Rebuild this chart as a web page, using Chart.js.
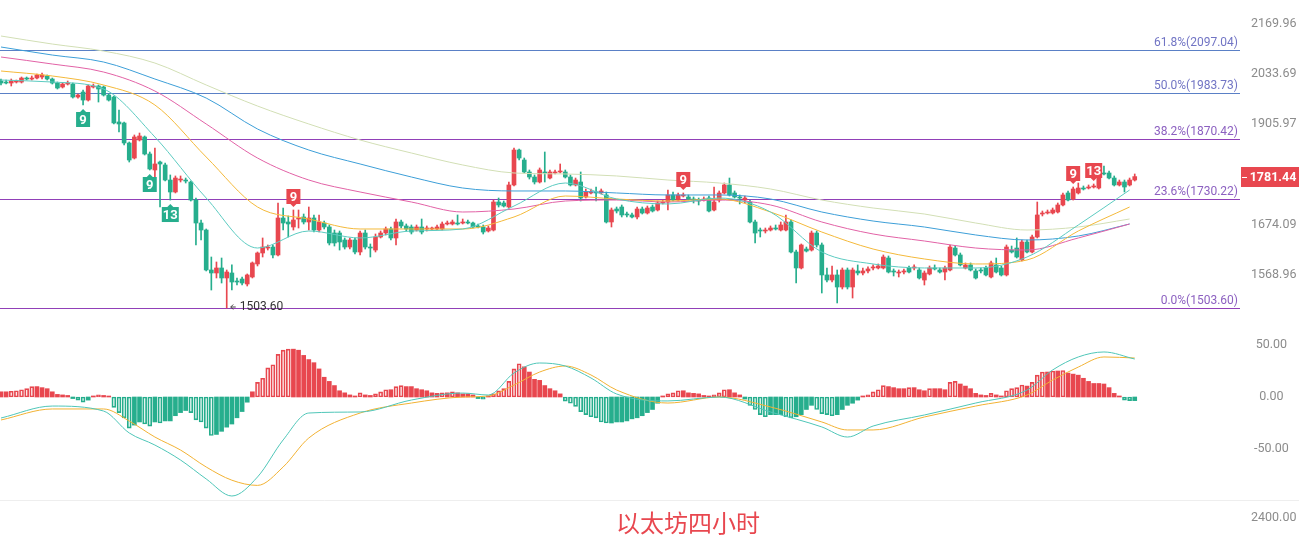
<!DOCTYPE html>
<html>
<head>
<meta charset="utf-8">
<script src="https://cdn.jsdelivr.net/npm/chart.js@4.4.1/dist/chart.umd.min.js"></script>
<style>
body { margin: 0; background: #fff; }
#wrap { position: relative; width: 1299px; height: 543px; background: #fff; overflow: hidden; }
canvas { position: absolute; left: 0; }
#title { position: absolute; left: 616px; top: 507px; font: 24px "Noto Sans CJK SC", sans-serif; line-height: 30px; color: #e8474f; }
</style>
</head>
<body>
<div id="wrap">
  <canvas id="priceChart" width="1299" height="320" style="top:0"></canvas>
  <canvas id="macdChart" width="1299" height="180" style="top:320px"></canvas>
  <canvas id="volChart" width="1299" height="43" style="top:500px"></canvas>
  <div id="title">以太坊四小时</div>
</div>
<script>
// 4h candles, ETH
var openP = [2015.3,2012.7,2010.1,2012.7,2012.7,2023.1,2020.5,2023.1,2025.8,2028.4,2020.5,2010.1,1999.8,2007.5,2007.5,1974.1,1986.9,1966.4,1999.8,2002.4,
1999.8,1979.2,1974.1,1911.6,1909.1,1860.4,1824.7,1867.6,1874.9,1834.2,1796.7,1815.3,1808.4,1773.6,1746.4,1773.6,1773.6,1769.1,1728.4,1677.9,
1662.8,1579.2,1573.1,1583.3,1563.0,1573.1,1556.9,1560.9,1550.9,1565.0,1591.5,1614.2,1624.6,1626.7,1610.1,1688.8,1680.1,1669.3,1686.6,1691.0,
1680.1,1688.8,1662.8,1677.9,1669.3,1656.4,1656.4,1641.5,1626.7,1641.5,1616.3,1656.4,1626.7,1620.4,1647.9,1656.4,1665.0,1645.8,1680.1,1671.5,
1669.3,1662.8,1669.3,1665.0,1665.0,1665.0,1665.0,1675.8,1675.8,1677.9,1677.9,1680.1,1677.9,1671.5,1669.3,1660.7,1662.8,1724.0,1721.8,1712.9,
1762.3,1843.6,1820.0,1792.1,1780.5,1769.1,1792.1,1778.2,1789.8,1792.1,1792.1,1780.5,1762.3,1769.1,1735.2,1744.2,1746.4,1744.2,1739.7,1680.1,
1708.5,1712.9,1697.5,1695.4,1691.0,1708.5,1699.7,1712.9,1706.3,1721.8,1724.0,1739.7,1728.4,1737.4,1735.2,1730.7,1728.4,1728.4,1732.9,1706.3,
1728.4,1744.2,1762.3,1744.2,1735.2,1728.4,1724.0,1680.1,1662.8,1660.7,1662.8,1667.1,1662.8,1662.8,1680.1,1616.3,1583.3,1622.5,1620.4,1656.4,
1631.0,1569.1,1558.9,1569.1,1544.9,1579.2,1544.9,1577.2,1573.1,1577.2,1583.3,1583.3,1583.3,1603.8,1577.2,1573.1,1575.1,1583.3,1583.3,1579.2,
1558.9,1571.1,1583.3,1579.2,1575.1,1579.2,1624.6,1610.1,1583.3,1589.5,1577.2,1579.2,1583.3,1565.0,1589.5,1583.3,1569.1,1620.4,1624.6,1599.7,
1637.3,1616.3,1647.9,1697.5,1699.7,1699.7,1701.9,1717.4,1744.2,1730.7,1744.2,1755.4,1755.4,1757.7,1755.4,1789.8,1789.8,1778.2,1762.3,1769.1,
1762.3,1773.6];
var highP = [2020.5,2017.9,2020.5,2017.9,2025.8,2025.8,2028.4,2033.6,2036.2,2031.0,2023.1,2012.7,2010.1,2015.3,2010.1,1981.8,1992.0,2005.0,2007.5,2005.0,
2002.4,1981.8,1976.6,1941.3,1911.6,1862.8,1879.7,1884.5,1877.3,1838.9,1848.4,1817.7,1813.0,1785.2,1782.9,1782.9,1778.2,1771.3,1732.9,1684.4,
1665.0,1605.9,1595.6,1603.8,1579.2,1589.5,1563.0,1565.0,1571.1,1595.6,1616.3,1645.8,1631.0,1631.0,1721.8,1710.7,1693.2,1706.3,1706.3,1697.5,
1712.9,1695.4,1695.4,1682.2,1673.6,1662.8,1660.7,1645.8,1645.8,1645.8,1660.7,1662.8,1633.1,1654.3,1660.7,1669.3,1669.3,1686.6,1684.4,1675.8,
1673.6,1673.6,1686.6,1671.5,1669.3,1673.6,1680.1,1682.2,1684.4,1695.4,1686.6,1684.4,1680.1,1675.8,1673.6,1671.5,1728.4,1732.9,1726.2,1769.1,
1848.4,1846.0,1824.7,1796.7,1785.2,1801.4,1838.9,1796.7,1796.7,1810.7,1796.7,1785.2,1778.2,1792.1,1753.2,1753.2,1757.7,1753.2,1746.4,1710.7,
1712.9,1717.4,1701.9,1699.7,1712.9,1712.9,1715.1,1717.4,1726.2,1728.4,1750.9,1746.4,1744.2,1744.2,1739.7,1735.2,1732.9,1735.2,1737.4,1757.7,
1748.7,1766.8,1778.2,1748.7,1739.7,1737.4,1728.4,1684.4,1667.1,1667.1,1671.5,1673.6,1680.1,1695.4,1684.4,1620.4,1633.1,1626.7,1660.7,1660.7,
1635.2,1583.3,1587.4,1579.2,1583.3,1583.3,1583.3,1589.5,1583.3,1585.4,1589.5,1591.5,1610.1,1608.0,1581.3,1579.2,1581.3,1587.4,1589.5,1583.3,
1577.2,1587.4,1589.5,1583.3,1587.4,1631.0,1628.8,1614.2,1593.6,1593.6,1581.3,1583.3,1587.4,1597.7,1603.8,1587.4,1631.0,1628.8,1645.8,1641.5,
1641.5,1652.2,1724.0,1704.1,1706.3,1710.7,1721.8,1744.2,1748.7,1757.7,1766.8,1760.0,1762.3,1764.5,1794.4,1806.0,1794.4,1782.9,1773.6,1773.6,
1778.2,1787.5];
var lowP = [2005.0,2007.5,2002.4,2010.1,2010.1,2017.9,2017.9,2020.5,2020.5,2017.9,2007.5,1994.6,1997.2,2005.0,1971.5,1971.5,1953.9,1963.9,1997.2,1961.4,
1976.6,1963.9,1906.6,1887.0,1855.6,1815.3,1822.4,1865.2,1831.8,1796.7,1773.6,1712.9,1771.3,1728.4,1744.2,1769.1,1766.8,1726.2,1631.0,1641.5,
1577.2,1538.9,1563.0,1552.9,1503.6,1538.9,1548.9,1548.9,1546.9,1563.0,1587.4,1605.9,1620.4,1603.8,1608.0,1662.8,1647.9,1662.8,1667.1,1675.8,
1662.8,1658.5,1658.5,1665.0,1631.0,1628.8,1620.4,1622.5,1622.5,1612.1,1610.1,1622.5,1605.9,1616.3,1645.8,1652.2,1641.5,1631.0,1667.1,1660.7,
1654.3,1660.7,1654.3,1660.7,1662.8,1662.8,1662.8,1673.6,1673.6,1673.6,1675.8,1675.8,1667.1,1667.1,1654.3,1658.5,1660.7,1712.9,1712.9,1710.7,
1760.0,1820.0,1789.8,1775.9,1764.5,1766.8,1769.1,1775.9,1787.5,1789.8,1778.2,1760.0,1760.0,1726.2,1732.9,1741.9,1726.2,1741.9,1677.9,1669.3,
1699.7,1691.0,1691.0,1688.8,1686.6,1697.5,1697.5,1701.9,1704.1,1719.6,1706.3,1726.2,1726.2,1735.2,1728.4,1721.8,1717.4,1726.2,1701.9,1704.1,
1724.0,1741.9,1737.4,1732.9,1719.6,1721.8,1677.9,1635.2,1647.9,1656.4,1660.7,1662.8,1660.7,1660.7,1614.2,1552.9,1581.3,1616.3,1618.3,1626.7,
1533.0,1554.9,1554.9,1513.4,1540.9,1540.9,1523.1,1569.1,1569.1,1573.1,1579.2,1581.3,1581.3,1573.1,1567.0,1565.0,1571.1,1573.1,1579.2,1560.9,
1548.9,1569.1,1579.2,1573.1,1558.9,1577.2,1608.0,1587.4,1581.3,1577.2,1560.9,1573.1,1567.0,1563.0,1573.1,1567.0,1567.0,1614.2,1603.8,1597.7,
1614.2,1614.2,1645.8,1693.2,1697.5,1697.5,1699.7,1715.1,1726.2,1728.4,1741.9,1750.9,1753.2,1755.4,1753.2,1785.2,1775.9,1760.0,1760.0,1746.4,
1760.0,1771.3];
var closeP = [2010.1,2010.1,2015.3,2015.3,2023.1,2020.5,2023.1,2031.0,2031.0,2020.5,2010.1,1997.2,2007.5,2010.1,1974.1,1979.2,1966.4,2002.4,2002.4,1994.6,
1979.2,1966.4,1909.1,1906.6,1860.4,1820.0,1874.9,1877.3,1834.2,1799.0,1810.7,1810.7,1773.6,1746.4,1778.2,1775.9,1771.3,1728.4,1677.9,1662.8,
1579.2,1573.1,1583.3,1563.0,1575.1,1554.9,1554.9,1552.9,1569.1,1593.6,1614.2,1626.7,1626.7,1610.1,1688.8,1677.9,1675.8,1684.4,1688.8,1680.1,
1688.8,1662.8,1680.1,1669.3,1635.2,1635.2,1637.3,1626.7,1641.5,1616.3,1656.4,1626.7,1624.6,1647.9,1656.4,1665.0,1645.8,1680.1,1671.5,1665.0,
1658.5,1669.3,1658.5,1667.1,1667.1,1669.3,1675.8,1677.9,1680.1,1675.8,1680.1,1677.9,1669.3,1669.3,1658.5,1667.1,1724.0,1717.4,1715.1,1762.3,
1843.6,1824.7,1792.1,1780.5,1769.1,1796.7,1789.8,1792.1,1792.1,1794.4,1780.5,1762.3,1773.6,1732.9,1746.4,1746.4,1744.2,1748.7,1680.1,1706.3,
1704.1,1695.4,1695.4,1691.0,1708.5,1699.7,1710.7,1704.1,1721.8,1724.0,1739.7,1728.4,1739.7,1739.7,1730.7,1728.4,1726.2,1730.7,1704.1,1724.0,
1744.2,1762.3,1739.7,1735.2,1732.9,1732.9,1680.1,1656.4,1660.7,1662.8,1667.1,1665.0,1673.6,1680.1,1616.3,1583.3,1631.0,1618.3,1656.4,1631.0,
1569.1,1558.9,1569.1,1544.9,1579.2,1544.9,1579.2,1573.1,1577.2,1581.3,1585.4,1587.4,1605.9,1575.1,1575.1,1575.1,1577.2,1575.1,1585.4,1563.0,
1573.1,1583.3,1581.3,1575.1,1583.3,1626.7,1610.1,1589.5,1589.5,1579.2,1563.0,1577.2,1569.1,1593.6,1575.1,1569.1,1626.7,1616.3,1605.9,1637.3,
1616.3,1647.9,1695.4,1699.7,1701.9,1706.3,1717.4,1739.7,1728.4,1753.2,1755.4,1753.2,1757.7,1760.0,1789.8,1787.5,1778.2,1762.3,1769.1,1757.7,
1773.6,1781.44];

// moving averages every 10 candles
var maX = [0,10,20,30,40,50,60,70,80,90,100,110,120,130,140,150,160,170,180,190,200,210,220];
var maTeal = [2017.9,2012.7,1994.6,1874.9,1732.9,1624.6,1660.7,1645.8,1660.7,1665.0,1715.1,1766.8,1730.7,1719.6,1732.9,1701.9,1616.3,1591.5,1583.3,1583.3,1605.9,1673.6,1750.9];
var maOrange = [2041.5,2028.4,2005.0,1953.9,1827.1,1712.9,1686.6,1665.0,1665.0,1665.0,1691.0,1737.4,1730.7,1726.2,1730.7,1701.9,1658.5,1622.5,1601.8,1591.5,1599.7,1660.7,1712.9];
var maPink = [2078.7,2060.0,2038.8,1989.4,1906.6,1824.7,1773.6,1746.4,1724.0,1701.9,1708.5,1726.2,1728.4,1724.0,1728.4,1717.4,1680.1,1654.3,1639.4,1624.6,1620.4,1645.8,1675.8];
var maBlue = [2105.7,2084.0,2065.3,2020.5,1971.5,1894.3,1843.6,1810.7,1780.5,1755.4,1748.7,1748.7,1744.2,1739.7,1739.7,1730.7,1701.9,1682.2,1669.3,1652.2,1641.5,1650.0,1675.8];
var maBeige = [2135.8,2113.8,2094.8,2062.6,2005.0,1951.3,1906.6,1867.6,1836.5,1808.4,1789.8,1787.5,1782.9,1773.6,1766.8,1753.2,1728.4,1710.7,1697.5,1677.9,1662.8,1669.3,1686.6];

// fibonacci retracement
var fibNames = ['61.8%','50.0%','38.2%','23.6%','0.0%'];
var fibLevels = [2097.04,1983.73,1870.42,1730.22,1503.60];

// TD sequential counts
var tdIdx = [16,29,33,57,133,209,213];
var tdText = ['9','9','13','9','9','9','13'];
var tdSide = ['low','low','low','high','high','high','high'];

var priceTicks = [2169.96,2033.69,1905.97,1674.09,1568.96];

// MACD
var macdHist = [5,5,5.5,6,7,8,10,10,9,8,5,2.5,2,1.5,-1.5,-3,-5,-3,1,2,
1.5,0.5,-10,-15,-20,-30,-27,-24,-26,-28,-24,-25,-23,-23,-18,-15,-13,-15,-22,-24,
-30,-37,-36,-33,-29,-26,-20,-14,-5,5,14,18,28,31,41,45,46,46,45,40,
36,33,27,19,15,11,6,4,2,1,4,2,1.5,3,5,7,7,10,11,10,
10,8,7,6,4,3.5,4,4,5,4,3,3,2,-1.5,-2,1,3,6,8,15,
27,32,29,24,17,16,11,8,6,3,-4,-6,-9,-14,-17,-19,-20,-24,-25,-25,
-24,-24,-23,-21,-20,-18,-15,-12,-6,1,3,4,6,6,4,3.5,3,1.5,1,2,
4,7,7,4,2,-2,-8,-12,-17,-19,-17,-17,-17,-19,-20,-19,-17,-12,-8,-12,
-16,-17,-18,-17,-12,-8,-6,-3,1,2,5,7,11,10,9,8,8,9,9,7,
6,8,8,8,7,14,15,12.5,10.5,8,3.5,2,1.5,3.5,2,1,6,8,9,11.5,
10.5,14,21,24,24,25,25,25.5,23,22,21,18,15,13,13,12.5,9,3.5,1,-3,
-3.5,-3.5];
var macdX = [0,10,20,25,30,35,40,45,50,55,60,70,80,90,95,100,105,110,115,120,130,140,150,160,165,170,180,190,200,205,210,215,221];
var difLine = [-20.2,-8.7,-13.5,-34.6,-46.2,-60.6,-78.8,-95.2,-76.9,-41.3,-15.4,-14.4,-2.9,3.8,1.9,23.1,32.7,29.8,18.3,2.9,-3.8,0,-14.4,-28.8,-38.5,-27.9,-17.3,-5.8,6.7,26.0,38.5,43.3,36.5];
var deaLine = [-22.1,-11.5,-11.5,-23.1,-38.5,-51.0,-67.3,-80.0,-85.0,-67.3,-39.4,-15.4,-5.8,0,1.0,11.5,24.0,29.8,21.2,6.7,-5.8,0,-9.6,-24.0,-31.7,-31.7,-19.2,-8.7,1.9,16.3,28.8,38.5,37.5];
var macdTicks = [50, 0, -50];
var volTicks = [2400];

var UP = '#e8474f';
var DOWN = '#26ae8d';
var X_MIN = -0.195, X_MAX = 241.52;

Chart.defaults.font.family = 'Roboto, "Liberation Sans", sans-serif';
Chart.defaults.animation = false;

function rightAxis(ticks, pad, extra) {
	var ax = {
		position: 'right',
		bounds: 'data',
		grid: { display: false, drawTicks: false },
		border: { display: false },
		ticks: {
			color: '#8c8c8c',
			font: { size: 12.5 },
			padding: pad,
			crossAlign: 'center',
			autoSkip: false,
			callback: function(v) { return Number(v).toFixed(2); }
		},
		afterBuildTicks: function(s) { s.ticks = ticks.map(function(v) { return { value: v }; }); },
		afterFit: function(s) { s.width = 59; s.paddingTop = 0; s.paddingBottom = 0; }
	};
	return Object.assign(ax, extra);
}

var xAxis = { type: 'linear', display: false, min: X_MIN, max: X_MAX, bounds: 'data', offset: false };

function maLine(vals, color) {
	return {
		type: 'line',
		data: vals.map(function(v, k) { return { x: maX[k], y: v }; }),
		borderColor: color,
		borderWidth: 1,
		pointRadius: 0,
		cubicInterpolationMode: 'monotone',
		order: 1
	};
}

var candleColors = closeP.map(function(c, i) { return c >= openP[i] ? UP : DOWN; });

var priceDecor = {
	id: 'priceDecor',
	beforeDatasetsDraw: function(chart) {
		var ctx = chart.ctx, a = chart.chartArea, y = chart.scales.y;
		ctx.save();
		fibLevels.forEach(function(v, k) {
			var py = Math.round(y.getPixelForValue(v)) + 0.5;
			ctx.strokeStyle = k < 2 ? '#5a80c6' : '#9140b8';
			ctx.lineWidth = 1;
			ctx.beginPath();
			ctx.moveTo(a.left, py);
			ctx.lineTo(a.right, py);
			ctx.stroke();
			ctx.fillStyle = k < 2 ? '#7174c4' : '#8c60c0';
			ctx.font = '12px Roboto, sans-serif';
			ctx.textAlign = 'right';
			ctx.textBaseline = 'bottom';
			ctx.fillText(fibNames[k] + '(' + v.toFixed(2) + ')', a.right - 2, py - 2);
		});
		ctx.restore();
	},
	afterDatasetsDraw: function(chart) {
		var ctx = chart.ctx, x = chart.scales.x, y = chart.scales.y;
		ctx.save();
		// TD sequential boxes
		tdIdx.forEach(function(i, k) {
			var px = x.getPixelForValue(i);
			var txt = tdText[k];
			var w = txt.length > 1 ? 17 : 14, h = 15;
			ctx.font = 'bold 13px Roboto, sans-serif';
			ctx.textAlign = 'center';
			ctx.textBaseline = 'middle';
			if (tdSide[k] == 'low') {
				var tip = y.getPixelForValue(lowP[i]) + 4;
				var top = tip + 3;
				ctx.fillStyle = DOWN;
				ctx.beginPath();
				ctx.moveTo(px, tip); ctx.lineTo(px + 3.5, top + 0.5); ctx.lineTo(px - 3.5, top + 0.5);
				ctx.fill();
				ctx.fillRect(px - w / 2, top, w, h);
				ctx.fillStyle = '#fff';
				ctx.fillText(txt, px, top + h / 2 + 1);
			} else {
				var tip2 = y.getPixelForValue(highP[i]) - 3;
				var bot = tip2 - 3;
				ctx.fillStyle = UP;
				ctx.beginPath();
				ctx.moveTo(px, tip2); ctx.lineTo(px + 3.5, bot - 0.5); ctx.lineTo(px - 3.5, bot - 0.5);
				ctx.fill();
				ctx.fillRect(px - w / 2, bot - h, w, h);
				ctx.fillStyle = '#fff';
				ctx.fillText(txt, px, bot - h / 2 + 1);
			}
		});
		// lowest low marker
		var lo = 0;
		lowP.forEach(function(v, i) { if (v < lowP[lo]) lo = i; });
		var lx = x.getPixelForValue(lo), ly = y.getPixelForValue(lowP[lo]) - 1;
		ctx.strokeStyle = '#444';
		ctx.lineWidth = 1;
		ctx.beginPath();
		ctx.moveTo(lx + 9, ly); ctx.lineTo(lx + 4, ly);
		ctx.moveTo(lx + 6.5, ly - 2.5); ctx.lineTo(lx + 4, ly); ctx.lineTo(lx + 6.5, ly + 2.5);
		ctx.stroke();
		ctx.fillStyle = '#333';
		ctx.font = '12px Roboto, sans-serif';
		ctx.textAlign = 'left';
		ctx.textBaseline = 'middle';
		ctx.fillText(lowP[lo].toFixed(2), lx + 13, ly);
		ctx.restore();
	},
	afterDraw: function(chart) {
		var ctx = chart.ctx, a = chart.chartArea, y = chart.scales.y;
		var last = closeP[closeP.length - 1];
		var py = y.getPixelForValue(last);
		ctx.save();
		ctx.fillStyle = UP;
		ctx.fillRect(a.right + 1, Math.round(py) - 10, chart.width - a.right - 1, 20);
		ctx.strokeStyle = '#fff';
		ctx.beginPath();
		ctx.moveTo(a.right + 2, Math.round(py) + 0.5);
		ctx.lineTo(a.right + 7, Math.round(py) + 0.5);
		ctx.stroke();
		ctx.fillStyle = '#fff';
		ctx.font = 'bold 12.5px Roboto, sans-serif';
		ctx.textAlign = 'center';
		ctx.textBaseline = 'middle';
		ctx.fillText(last.toFixed(2), a.right + 33, Math.round(py) + 1);
		ctx.restore();
	}
};

new Chart(document.getElementById('priceChart'), {
	type: 'bar',
	data: {
		datasets: [
			maLine(maTeal, '#5ccbc1'),
			maLine(maOrange, '#f4b93a'),
			maLine(maPink, '#e262a6'),
			maLine(maBlue, '#3d9fd8'),
			maLine(maBeige, '#d2dfb5'),
			{
				data: lowP.map(function(l, i) { return { x: i, y: [l, highP[i]] }; }),
				backgroundColor: candleColors,
				barThickness: 1,
				grouped: false,
				minBarLength: 1,
				order: 3
			},
			{
				data: openP.map(function(o, i) { return { x: i, y: [o, closeP[i]] }; }),
				backgroundColor: candleColors,
				barThickness: 4,
				grouped: false,
				minBarLength: 1,
				order: 2
			}
		]
	},
	options: {
		responsive: false,
		devicePixelRatio: 1,
		events: [],
		layout: { padding: 0 },
		plugins: { legend: { display: false }, tooltip: { enabled: false } },
		scales: {
			x: xAxis,
			y: rightAxis(priceTicks, 11, { type: 'logarithmic', min: 1480.5, max: 2237.4 })
		}
	},
	plugins: [priceDecor]
});

var histColor = macdHist.map(function(h) { return h >= 0 ? UP : DOWN; });
var histHollow = macdHist.map(function(h, i) { return i > 0 && Math.abs(h) > Math.abs(macdHist[i - 1]); });

new Chart(document.getElementById('macdChart'), {
	type: 'bar',
	data: {
		datasets: [
			{
				type: 'line',
				data: difLine.map(function(v, k) { return { x: macdX[k], y: v }; }),
				borderColor: '#4fc6b8',
				borderWidth: 1,
				pointRadius: 0,
				cubicInterpolationMode: 'monotone',
				order: 1
			},
			{
				type: 'line',
				data: deaLine.map(function(v, k) { return { x: macdX[k], y: v }; }),
				borderColor: '#f2b233',
				borderWidth: 1,
				pointRadius: 0,
				cubicInterpolationMode: 'monotone',
				order: 1
			},
			{
				data: macdHist.map(function(h, i) { return { x: i, y: h }; }),
				backgroundColor: function(c) {
					var i = c.dataIndex;
					if (histHollow[i]) return macdHist[i] >= 0 ? 'rgba(232,71,79,0.12)' : 'rgba(38,174,141,0.12)';
					return histColor[i];
				},
				borderColor: histColor,
				borderWidth: function(c) { return histHollow[c.dataIndex] ? 1 : 0; },
				borderSkipped: false,
				barThickness: 4,
				grouped: false,
				minBarLength: 1,
				order: 2
			}
		]
	},
	options: {
		responsive: false,
		devicePixelRatio: 1,
		events: [],
		layout: { padding: 0 },
		plugins: { legend: { display: false }, tooltip: { enabled: false } },
		scales: {
			x: xAxis,
			y: rightAxis(macdTicks, 14, { type: 'linear', min: -99.04, max: 74.04 })
		}
	}
});

var sepLine = {
	id: 'sepLine',
	beforeDraw: function(chart) {
		var ctx = chart.ctx;
		ctx.save();
		ctx.strokeStyle = '#eeeeee';
		ctx.beginPath();
		ctx.moveTo(0, 0.5);
		ctx.lineTo(chart.width, 0.5);
		ctx.stroke();
		ctx.restore();
	}
};

new Chart(document.getElementById('volChart'), {
	type: 'bar',
	data: { datasets: [] },
	options: {
		responsive: false,
		devicePixelRatio: 1,
		events: [],
		layout: { padding: 0 },
		plugins: { legend: { display: false }, tooltip: { enabled: false } },
		scales: {
			x: xAxis,
			y: rightAxis(volTicks, 11, { type: 'linear', min: 0, max: 4128 })
		}
	},
	plugins: [sepLine]
});
</script>
</body>
</html>
